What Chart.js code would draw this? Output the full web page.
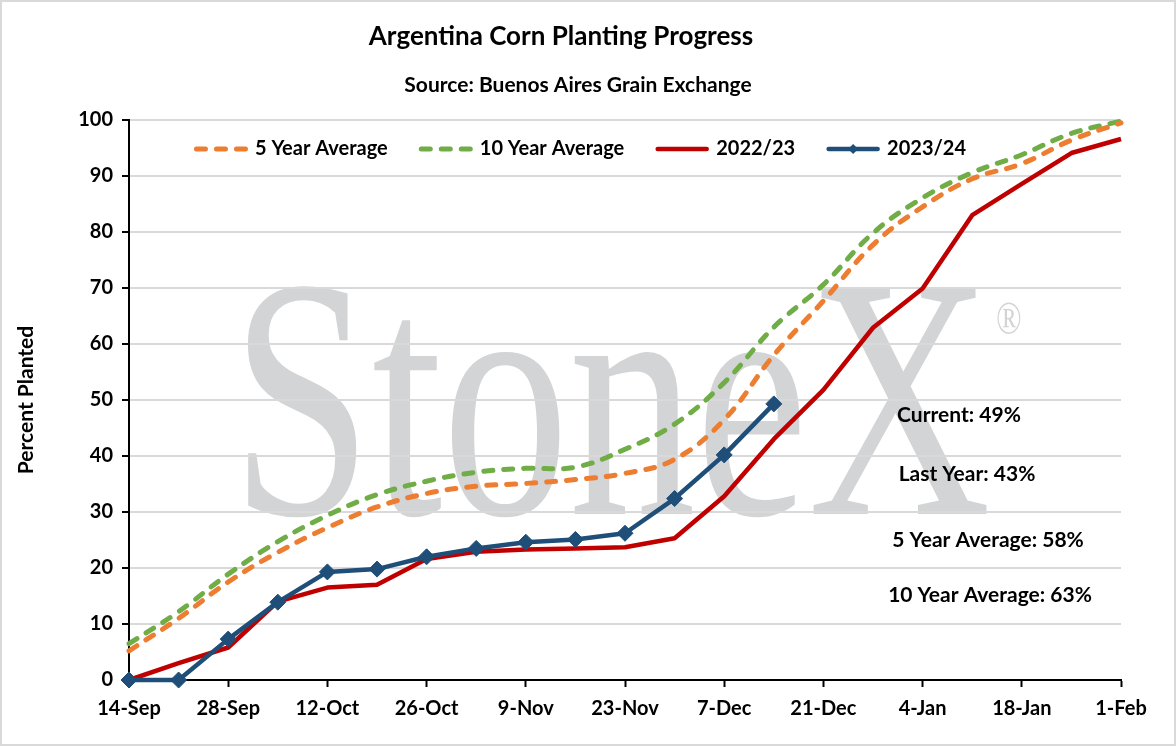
<!DOCTYPE html>
<html>
<head>
<meta charset="utf-8">
<script src="https://cdn.jsdelivr.net/npm/chart.js@4.4.0/dist/chart.umd.min.js"></script>
<style>
  html, body { margin: 0; padding: 0; background: #fff; }
  #wrap { width: 1176px; height: 746px; }
</style>
</head>
<body>
<div id="wrap"><canvas id="chart" width="1176" height="746"></canvas></div>
<script>
// weekly progress, % of area planted
const weeks = ['14-Sep', '21-Sep', '28-Sep', '5-Oct', '12-Oct', '19-Oct', '26-Oct', '2-Nov', '9-Nov', '16-Nov',
  '23-Nov', '30-Nov', '7-Dec', '14-Dec', '21-Dec', '28-Dec', '4-Jan', '11-Jan', '18-Jan', '25-Jan', '1-Feb'];
const avg5 = [5.2, 11.0, 17.5, 22.8, 27.2, 30.9, 33.3, 34.6, 35.1, 35.8, 36.9, 39.4, 46.5, 58.0, 67.7, 77.7, 84.5, 89.5, 92.2, 96.4, 99.5];
const avg10 = [6.5, 12.2, 18.9, 24.7, 29.4, 33.1, 35.5, 37.1, 37.8, 38.0, 41.2, 45.7, 53.1, 63.0, 70.6, 79.8, 86.1, 90.6, 93.8, 97.6, 99.8];
const season2223 = [0, 3.0, 5.8, 14.0, 16.5, 17.0, 21.6, 22.9, 23.3, 23.5, 23.7, 25.3, 32.8, 43.0, 51.8, 62.9, 69.9, 83.0, 88.6, 94.1, 96.6];
const season2324 = [0, 0, 7.3, 13.9, 19.3, 19.8, 22.0, 23.5, 24.6, 25.1, 26.2, 32.4, 40.2, 49.3];
const notes = ['Current: 49%', 'Last Year: 43%', '5 Year Average: 58%', '10 Year Average: 63%'];

const FONT = 'Lato, "Open Sans", sans-serif';

// title, watermark, legend inside the plot and the text notes on the right
const decor = {
  id: 'decor',
  beforeDraw(chart) {
    const ctx = chart.ctx;
    ctx.save();
    ctx.fillStyle = '#fff';
    ctx.fillRect(0, 0, chart.width, chart.height);

    // StoneX watermark, squeezed sideways like the original picture
    ctx.fillStyle = '#d3d4d6';
    ctx.font = '344px "Liberation Serif", "DejaVu Serif", serif';
    ctx.textBaseline = 'alphabetic';
    const w = ctx.measureText('StoneX').width;
    const sx = 760 / w;
    ctx.translate(231, 514);
    ctx.scale(sx, 1);
    ctx.fillText('StoneX', 0, 0);
    ctx.font = '46px "Liberation Serif", serif';
    ctx.textBaseline = 'middle';
    ctx.fillText('\u00AE', (996 - 231) / sx, 322 - 514);
    ctx.restore();
  },
  afterDraw(chart) {
    const ctx = chart.ctx;
    ctx.save();
    ctx.fillStyle = '#000';
    ctx.textAlign = 'center';
    ctx.textBaseline = 'middle';
    ctx.font = `bold 26px ${FONT}`;
    ctx.fillText('Argentina Corn Planting Progress', 561, 37);
    ctx.font = `bold 21px ${FONT}`;
    ctx.fillText('Source: Buenos Aires Grain Exchange', 578, 85);

    // notes
    ctx.font = `bold 21px ${FONT}`;
    const notePos = [[959, 415], [967, 474], [988, 540], [990, 595]];
    notes.forEach((t, i) => ctx.fillText(t, notePos[i][0], notePos[i][1]));

    // legend
    ctx.font = `bold 20px ${FONT}`;
    ctx.textAlign = 'left';
    const sets = chart.data.datasets;
    const lineLen = 54, gapText = 7, gapItem = 31;
    const total = sets.reduce((s, d) => s + lineLen + gapText + ctx.measureText(d.label).width, 0) + gapItem * (sets.length - 1);
    let x = 580 - total / 2;
    const y = 149;
    sets.forEach(d => {
      ctx.save();
      ctx.strokeStyle = d.borderColor;
      ctx.lineWidth = d.borderWidth;
      ctx.lineCap = 'round';
      ctx.setLineDash(d.borderDash || []);
      ctx.beginPath();
      ctx.moveTo(x + 2.5, y);
      ctx.lineTo(x + lineLen - 2.5, y);
      ctx.stroke();
      if (d.pointRadius) {
        const cx = x + lineLen / 2, r = 5;
        ctx.fillStyle = d.pointBackgroundColor;
        ctx.beginPath();
        ctx.moveTo(cx, y - r); ctx.lineTo(cx + r, y); ctx.lineTo(cx, y + r); ctx.lineTo(cx - r, y);
        ctx.closePath();
        ctx.fill();
      }
      ctx.restore();
      x += lineLen + gapText;
      ctx.fillStyle = '#000';
      ctx.fillText(d.label, x, y);
      x += ctx.measureText(d.label).width + gapItem;
    });

    // outer frame
    ctx.strokeStyle = '#d9d9d9';
    ctx.lineWidth = 2;
    ctx.strokeRect(1, 1, chart.width - 2, chart.height - 2);
    ctx.restore();
  }
};

new Chart(document.getElementById('chart'), {
  type: 'line',
  data: {
    labels: weeks,
    datasets: [
      {
        label: '5 Year Average', data: avg5, borderColor: '#ED7D31', borderWidth: 5,
        borderDash: [9, 11], borderCapStyle: 'round', tension: 0.4, pointRadius: 0, order: 3, clip: false
      },
      {
        label: '10 Year Average', data: avg10, borderColor: '#70AD47', borderWidth: 5,
        borderDash: [9, 11], borderCapStyle: 'round', tension: 0.4, pointRadius: 0, order: 4, clip: false
      },
      {
        label: '2022/23', data: season2223, borderColor: '#C00000', borderWidth: 4.5,
        borderJoinStyle: 'round', tension: 0, pointRadius: 0, order: 2, clip: false
      },
      {
        label: '2023/24', data: season2324, borderColor: '#1F4E79', borderWidth: 4.5,
        borderJoinStyle: 'round', tension: 0, pointStyle: 'rectRot', pointRadius: 8,
        pointBackgroundColor: '#1F4E79', pointBorderColor: '#1F4E79', pointBorderWidth: 1,
        order: 1, clip: false
      }
    ]
  },
  options: {
    responsive: false,
    animation: false,
    events: [],
    layout: { padding: { top: 120, right: 55, bottom: 0, left: 0 } },
    plugins: {
      legend: { display: false },
      title: { display: false },
      tooltip: { enabled: false }
    },
    scales: {
      x: {
        type: 'category',
        offset: false,
        grid: {
          drawOnChartArea: false,
          drawTicks: true,
          tickLength: 7,
          tickWidth: 2,
          tickColor: c => (c.index % 2 === 0 ? '#000' : 'rgba(0,0,0,0)')
        },
        border: { color: '#000', width: 2 },
        ticks: {
          autoSkip: false,
          maxRotation: 0,
          padding: 10,
          color: '#000',
          font: { family: FONT, size: 20, weight: 'bold' },
          callback(v, i) { return i % 2 === 0 ? this.getLabelForValue(v) : ''; }
        },
        afterFit(scale) { scale.height = 66; }
      },
      y: {
        min: 0,
        max: 100,
        grid: {
          color: c => (c.tick && c.tick.value === 0 ? 'rgba(0,0,0,0)' : '#d9d9d9'),
          lineWidth: 2,
          tickLength: 7,
          tickWidth: 2,
          tickColor: '#000'
        },
        border: { color: '#000', width: 2 },
        ticks: {
          stepSize: 10,
          padding: 9,
          color: '#000',
          font: { family: FONT, size: 20, weight: 'bold' }
        },
        title: {
          display: true,
          text: 'Percent Planted',
          color: '#000',
          font: { family: FONT, size: 21, weight: 'bold' },
          padding: { top: 14, bottom: 0 }
        },
        afterFit(scale) { scale.width = 129; }
      }
    }
  },
  plugins: [decor]
});
</script>
</body>
</html>
